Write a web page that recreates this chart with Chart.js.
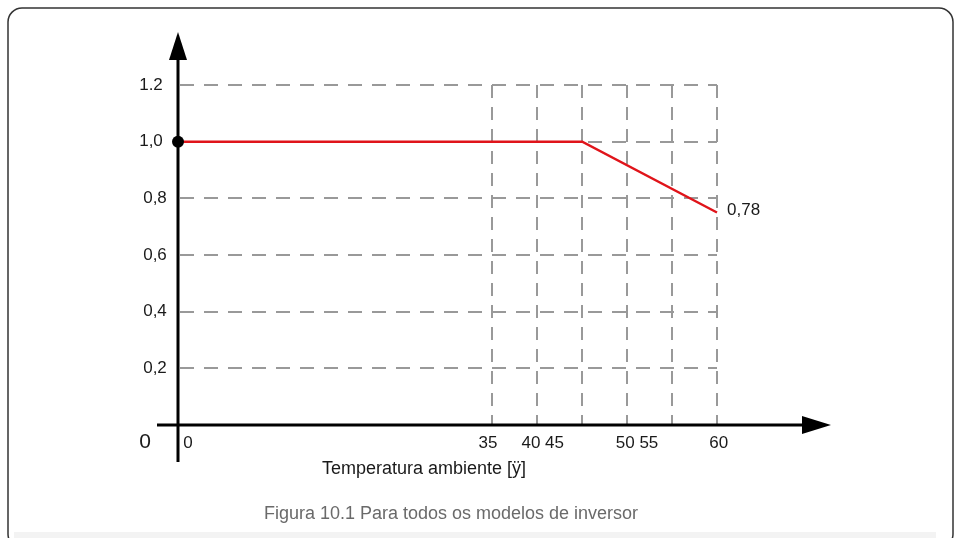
<!DOCTYPE html>
<html>
<head>
<meta charset="utf-8">
<script src="https://cdn.jsdelivr.net/npm/chart.js@4/dist/chart.umd.min.js"></script>
<style>
html,body{margin:0;padding:0;background:#fff;}
canvas{display:block;}
</style>
</head>
<body>
<canvas id="c" width="954" height="538"></canvas>
<script>
// ---- data ----
const curveTemps = [0, 45, 60];
const curvePower = [1.0, 1.0, 0.75];
const gridTemps = [35, 40, 45, 50, 55, 60];
const gridPowers = [0.2, 0.4, 0.6, 0.8, 1.0, 1.2];
const yTickLabels = ['0,2', '0,4', '0,6', '0,8', '1,0', '1.2'];
const xTickLabels = ['0', '35', '40 45', '50 55', '60'];
const xTickPlaces = [1.1, 34.5, 40.6, 51.1, 60.2];
const endLabel = '0,78';
const xTitle = 'Temperatura ambiente [ÿ]';
const caption = 'Figura 10.1 Para todos os modelos de inversor';
const originLabel = '0';

const FONT = '"Liberation Sans", Arial, sans-serif';

const decor = {
  id: 'decor',
  beforeDraw(chart) {
    const ctx = chart.ctx;
    // frame
    ctx.save();
    ctx.fillStyle = '#f3f3f3';
    ctx.fillRect(14, 532, 922, 6);
    ctx.strokeStyle = '#333';
    ctx.lineWidth = 1.5;
    ctx.beginPath();
    ctx.roundRect(8, 8, 945, 540, 14);
    ctx.stroke();
    ctx.restore();

    const xs = chart.scales.x, ys = chart.scales.y;
    const x0 = xs.getPixelForValue(0), x60 = xs.getPixelForValue(60);
    const y0 = ys.getPixelForValue(0), yTop = ys.getPixelForValue(1.2);
    ctx.save();
    ctx.strokeStyle = '#999';
    ctx.lineWidth = 2;
    ctx.setLineDash([14, 10]);
    gridPowers.forEach(p => {
      const y = Math.round(ys.getPixelForValue(p));
      ctx.beginPath();
      ctx.moveTo(x0 + 2, y);
      ctx.lineTo(x60, y);
      ctx.stroke();
    });
    ctx.setLineDash([13, 9]);
    gridTemps.forEach(t => {
      const x = Math.round(xs.getPixelForValue(t));
      ctx.beginPath();
      ctx.moveTo(x, yTop);
      ctx.lineTo(x, y0);
      ctx.stroke();
    });
    ctx.restore();
  },
  afterDatasetsDraw(chart) {
    const ctx = chart.ctx;
    const xs = chart.scales.x, ys = chart.scales.y;
    const x0 = xs.getPixelForValue(0);
    const y0 = ys.getPixelForValue(0);
    ctx.save();
    ctx.strokeStyle = '#000';
    ctx.fillStyle = '#000';
    ctx.lineWidth = 3;
    // y axis
    ctx.beginPath();
    ctx.moveTo(x0, y0 + 37);
    ctx.lineTo(x0, 58);
    ctx.stroke();
    ctx.beginPath();
    ctx.moveTo(x0, 32);
    ctx.lineTo(x0 - 9, 60);
    ctx.lineTo(x0 + 9, 60);
    ctx.closePath();
    ctx.fill();
    // x axis
    ctx.beginPath();
    ctx.moveTo(x0 - 21, y0);
    ctx.lineTo(805, y0);
    ctx.stroke();
    ctx.beginPath();
    ctx.moveTo(831, y0);
    ctx.lineTo(802, y0 - 9);
    ctx.lineTo(802, y0 + 9);
    ctx.closePath();
    ctx.fill();

    // y tick labels
    ctx.fillStyle = '#1a1a1a';
    ctx.font = '17px ' + FONT;
    ctx.textBaseline = 'middle';
    ctx.textAlign = 'center';
    gridPowers.forEach((p, i) => {
      const y = ys.getPixelForValue(p);
      const cx = p >= 1 ? 151 : 155;
      ctx.fillText(yTickLabels[i], cx, y);
    });
    // x tick labels
    xTickLabels.forEach((l, i) => {
      const x = xs.getPixelForValue(xTickPlaces[i]);
      ctx.fillText(l, x, y0 + 18);
    });
    // origin label
    ctx.font = '21px ' + FONT;
    ctx.fillText(originLabel, 145, y0 + 17);
    // end label
    ctx.font = '17px ' + FONT;
    ctx.textAlign = 'left';
    const ex = xs.getPixelForValue(curveTemps[curveTemps.length - 1]);
    const ey = ys.getPixelForValue(curvePower[curvePower.length - 1]);
    ctx.fillText(endLabel, ex + 10, ey - 2);
    // axis title
    ctx.font = '18px ' + FONT;
    ctx.fillText(xTitle, 322, y0 + 44);
    // caption
    ctx.fillStyle = '#6a6a6a';
    ctx.font = '18px ' + FONT;
    ctx.textAlign = 'center';
    ctx.fillText(caption, 451, 514);
    ctx.restore();
  }
};

new Chart(document.getElementById('c'), {
  type: 'line',
  data: {
    datasets: [{
      data: curveTemps.map((t, i) => ({x: t, y: curvePower[i]})),
      borderColor: '#e0141a',
      borderWidth: 2.5,
      pointRadius: [6, 0, 0],
      pointBackgroundColor: '#000',
      pointBorderColor: '#000',
      pointBorderWidth: 0,
      tension: 0,
      clip: false,
      fill: false
    }]
  },
  options: {
    responsive: false,
    animation: false,
    devicePixelRatio: 1,
    layout: {padding: {left: 178, right: 237, top: 85, bottom: 113}},
    plugins: {legend: {display: false}, tooltip: {enabled: false}},
    scales: {
      x: {type: 'linear', min: 0, max: 60, display: false},
      y: {type: 'linear', min: 0, max: 1.2, display: false}
    }
  },
  plugins: [decor]
});
</script>
</body>
</html>
